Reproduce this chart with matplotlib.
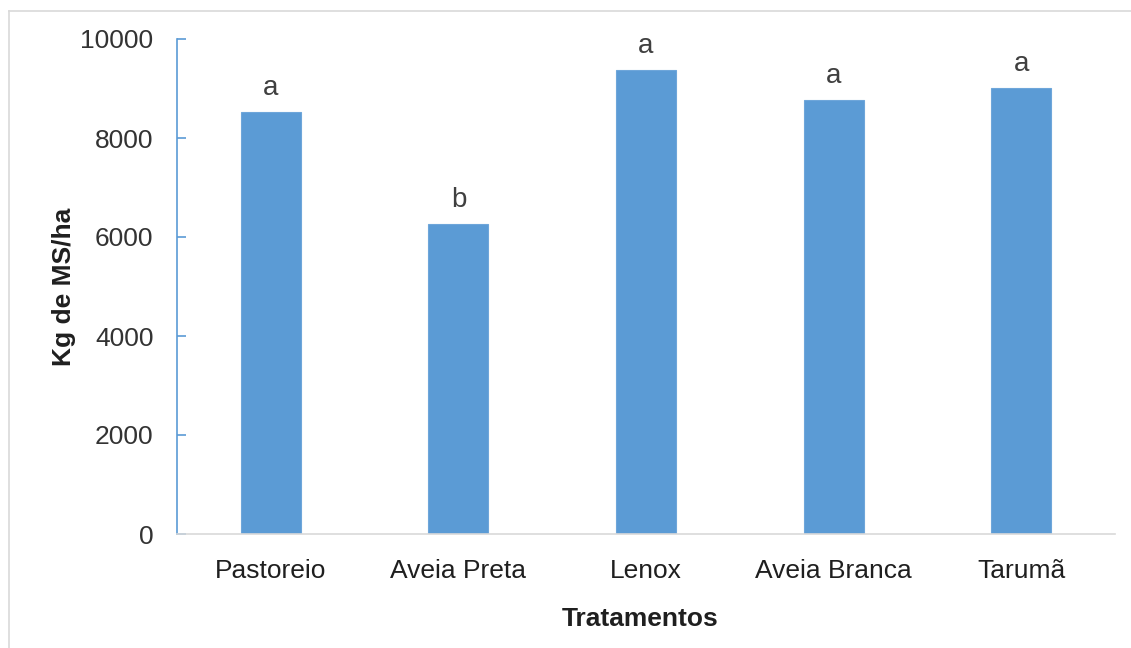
import matplotlib.pyplot as plt
from matplotlib.lines import Line2D

# Produção de massa seca por tratamento
tratamentos = ["Pastoreio", "Aveia Preta", "Lenox", "Aveia Branca", "Tarumã"]
kg_ms_ha = [8520, 6260, 9375, 8765, 9010]
letras = ["a", "b", "a", "a", "a"]

yticks = [0, 2000, 4000, 6000, 8000, 10000]

plt.rcParams['font.family'] = ['Liberation Sans', 'DejaVu Sans']

fig = plt.figure(figsize=(11.31, 6.48), dpi=100)
ax = fig.add_axes([177 / 1131, 1 - 534 / 648, 938 / 1131, 495 / 648])

x = range(len(tratamentos))
ax.bar(x, kg_ms_ha, width=0.32, color="#5B9BD5", edgecolor="#6EA6DA", linewidth=0.8)

# letras de significância acima das barras
for xi, v, l in zip(x, kg_ms_ha, letras):
    ax.annotate(l, (xi, v), xytext=(0, 12.5), textcoords="offset points",
                ha="center", va="baseline", fontsize=20, color="#404040")

ax.set_xlim(-0.5, len(tratamentos) - 0.5)
ax.set_ylim(0, 10000)
ax.set_yticks(yticks)
ax.set_xticks(list(x))
ax.set_xticklabels(tratamentos)

for s in ["top", "right"]:
    ax.spines[s].set_visible(False)
ax.spines["left"].set_color("#5B9BD5")
ax.spines["left"].set_linewidth(1.2)
ax.spines["bottom"].set_color("#D9D9D9")
ax.spines["bottom"].set_linewidth(1.2)

ax.tick_params(axis="y", direction="in", length=6.5, width=1.2, color="#5B9BD5",
               pad=17, labelsize=19, labelcolor="#333333")
ax.tick_params(axis="x", length=0, pad=18, labelsize=19, labelcolor="#1F1F1F")

ax.set_xlabel("Tratamentos", fontsize=19, fontweight="bold", color="#1F1F1F")
ax.xaxis.set_label_coords(0.494, -0.147)
ax.set_ylabel("Kg de MS/ha", fontsize=19, fontweight="bold", color="#1F1F1F")
ax.yaxis.set_label_coords(-0.108, 0.5)

# moldura cinza clara
fig.add_artist(Line2D([9 / 1131, 9 / 1131], [-0.1, 1 - 11 / 648],
                      transform=fig.transFigure, color="#D9D9D9", lw=1.2))
fig.add_artist(Line2D([9 / 1131, 1.1], [1 - 11 / 648, 1 - 11 / 648],
                      transform=fig.transFigure, color="#D9D9D9", lw=1.2))

fig.savefig("out.png", dpi=100)
